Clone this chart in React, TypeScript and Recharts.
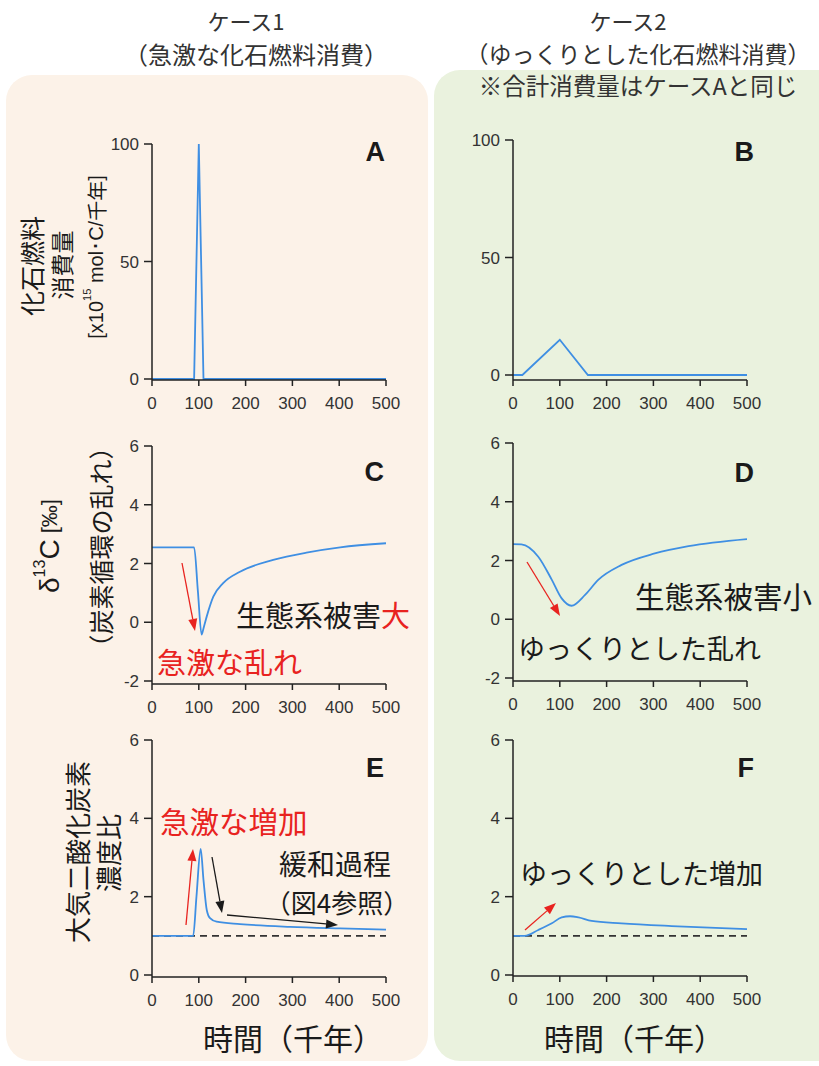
import React from 'react';
import { LineChart, Line, XAxis, YAxis, ReferenceLine } from 'recharts';

// 時間（千年）
const xTicks = [0, 100, 200, 300, 400, 500];
const fuelTicks = [0, 50, 100];
const d13cTicks = [-2, 0, 2, 4, 6];
const co2Ticks = [0, 2, 4, 6];

// A: 急激な化石燃料消費
const timeA = [0, 90, 100, 110, 500];
const fuelA = [0, 0, 100, 0, 0];

// B: ゆっくりとした化石燃料消費
const timeB = [0, 20, 100, 160, 500];
const fuelB = [0, 0, 15, 0, 0];

// C: δ13C ケース1
const timeC = [0, 90, 98, 106, 110, 117, 131, 152, 188, 259, 330, 402, 500];
const d13cC = [2.55, 2.55, 1.07, -0.42, -0.21, 0.2, 0.87, 1.33, 1.72, 2.12, 2.37, 2.55, 2.69];

// D: δ13C ケース2
const timeD = [0, 18, 54, 83, 104, 125, 154, 182, 232, 303, 375, 500];
const d13cD = [2.56, 2.55, 2.13, 1.34, 0.71, 0.46, 0.83, 1.34, 1.85, 2.24, 2.49, 2.73];

// E: CO2 濃度比 ケース1
const timeE = [0, 88, 95, 104, 110, 117, 124, 138, 188, 295, 402, 500];
const co2E = [1.0, 1.0, 2.0, 3.22, 2.43, 1.66, 1.45, 1.36, 1.3, 1.23, 1.19, 1.16];

// F: CO2 濃度比 ケース2
const timeF = [0, 25, 54, 83, 104, 122, 140, 168, 232, 339, 500];
const co2F = [1.0, 1.0, 1.15, 1.32, 1.47, 1.5, 1.47, 1.38, 1.32, 1.25, 1.17];

const JP = '"Noto Sans CJK JP", "Noto Sans", sans-serif';
const LAT = '"Liberation Sans", Arial, sans-serif';
const BLUE = '#3f8fe3';
const RED = '#e8231f';
const INK = '#1a1a1a';

type PanelProps = {
  x: number;
  y: number;
  times: number[];
  values: number[];
  domain: [number, number];
  ticks: number[];
  pad: number;
  curve: 'linear' | 'monotone';
  baseline?: boolean;
};

function Panel({ x, y, times, values, domain, ticks, pad, curve, baseline }: PanelProps) {
  const data = times.map((t, i) => ({ t, v: values[i] }));
  const YW = 60, MT = 10, MR = 30, XH = 40, PW = 234, PH = 235;
  const axisStyle = { stroke: '#222', strokeWidth: 1.5 };
  const tickStyle = { fill: '#333', fontSize: 17, fontFamily: LAT };
  return (
    <div style={{ position: 'absolute', left: x - YW, top: y - MT }}>
      <LineChart
        width={YW + PW + MR}
        height={MT + PH + pad + XH}
        data={data}
        margin={{ top: MT, right: MR, bottom: 0, left: 0 }}
      >
        <XAxis
          dataKey="t"
          type="number"
          domain={[0, 500]}
          ticks={xTicks}
          interval={0}
          height={XH}
          tickSize={6}
          tickMargin={11}
          axisLine={axisStyle}
          tickLine={axisStyle}
          tick={tickStyle}
        />
        <YAxis
          type="number"
          domain={domain}
          ticks={ticks}
          interval={0}
          width={YW}
          tickSize={8}
          tickMargin={5}
          padding={{ top: 0, bottom: pad }}
          axisLine={axisStyle}
          tickLine={axisStyle}
          tick={tickStyle}
        />
        {baseline && (
          <ReferenceLine y={1} stroke="#333" strokeWidth={1.6} strokeDasharray="7 5" />
        )}
        <Line
          dataKey="v"
          type={curve}
          stroke={BLUE}
          strokeWidth={1.8}
          dot={false}
          isAnimationActive={false}
        />
      </LineChart>
    </div>
  );
}

function Arrow({ x1, y1, x2, y2, color }: { x1: number; y1: number; x2: number; y2: number; color: string }) {
  const a = Math.atan2(y2 - y1, x2 - x1);
  const L = 12, W = 4.5;
  const bx = x2 - L * Math.cos(a);
  const by = y2 - L * Math.sin(a);
  const pts = [
    [x2, y2],
    [bx + W * Math.sin(a), by - W * Math.cos(a)],
    [bx - W * Math.sin(a), by + W * Math.cos(a)],
  ].map(p => p.join(',')).join(' ');
  return (
    <g>
      <line x1={x1} y1={y1} x2={bx} y2={by} stroke={color} strokeWidth={1.3} />
      <polygon points={pts} fill={color} />
    </g>
  );
}

function VText({ x, y, size, children }: { x: number; y: number; size: number; children: React.ReactNode }) {
  return (
    <text
      transform={`translate(${x},${y}) rotate(-90)`}
      textAnchor="middle"
      dominantBaseline="central"
      fontSize={size}
      fontFamily={JP}
      fill={INK}
    >
      {children}
    </text>
  );
}

export default function App() {
  const letter = { fontFamily: LAT, fontWeight: 700, fontSize: 27, fill: INK, textAnchor: 'end' as const };
  const note = { fontFamily: JP, fill: INK, dominantBaseline: 'central' as const };
  const head = { fontFamily: JP, fill: '#333', textAnchor: 'middle' as const, dominantBaseline: 'central' as const };
  return (
    <div style={{ position: 'absolute', left: 0, top: 0, width: 819, height: 1066, overflow: 'hidden', background: '#fff' }}>
      <div style={{ position: 'absolute', left: 6, top: 75, width: 422, height: 986, background: '#fcf2e8', borderRadius: 26 }} />
      <div style={{ position: 'absolute', left: 434, top: 70, width: 420, height: 991, background: '#eaf2de', borderRadius: 26 }} />

      <Panel x={152} y={144} times={timeA} values={fuelA} domain={[0, 100]} ticks={fuelTicks} pad={1} curve="linear" />
      <Panel x={513} y={140} times={timeB} values={fuelB} domain={[0, 100]} ticks={fuelTicks} pad={5} curve="linear" />
      <Panel x={152} y={446} times={timeC} values={d13cC} domain={[-2, 6]} ticks={d13cTicks} pad={3} curve="monotone" />
      <Panel x={513} y={443} times={timeD} values={d13cD} domain={[-2, 6]} ticks={d13cTicks} pad={3} curve="monotone" />
      <Panel x={152} y={740} times={timeE} values={co2E} domain={[0, 6]} ticks={co2Ticks} pad={2} curve="monotone" baseline />
      <Panel x={513} y={740} times={timeF} values={co2F} domain={[0, 6]} ticks={co2Ticks} pad={1} curve="monotone" baseline />

      <svg width={819} height={1066} style={{ position: 'absolute', left: 0, top: 0, pointerEvents: 'none' }}>
        {/* 見出し */}
        <text x={246} y={20} {...head} fontSize={22}>ケース1</text>
        <text x={256} y={53} {...head} fontSize={24}>（急激な化石燃料消費）</text>
        <text x={628} y={20} {...head} fontSize={22}>ケース2</text>
        <text x={638} y={53} {...head} fontSize={23}>（ゆっくりとした化石燃料消費）</text>
        <text x={638} y={85} {...head} fontSize={23.5}>※合計消費量はケースAと同じ</text>

        {/* パネル記号 */}
        <text x={385} y={161} {...letter}>A</text>
        <text x={754} y={161} {...letter}>B</text>
        <text x={384} y={481} {...letter}>C</text>
        <text x={754} y={482} {...letter}>D</text>
        <text x={384} y={777} {...letter}>E</text>
        <text x={754} y={777} {...letter}>F</text>

        {/* 縦軸ラベル */}
        <VText x={31} y={266} size={25}>化石燃料</VText>
        <VText x={61} y={265} size={23}>消費量</VText>
        <text transform="translate(96,257) rotate(-90)" textAnchor="middle" dominantBaseline="central" fontSize={20} fontFamily={LAT} fill={INK}>
          [x10<tspan fontSize={11} dy={-9}>15</tspan><tspan dy={9}> mol･C/</tspan><tspan fontFamily={JP}>千年</tspan>]
        </text>

        <text transform="translate(49,546) rotate(-90)" textAnchor="middle" dominantBaseline="central" fontFamily={LAT} fill={INK}>
          <tspan fontSize={28}>δ</tspan><tspan fontSize={16} dy={-10}>13</tspan><tspan fontSize={28} dy={10}>C</tspan><tspan fontSize={22}> [‰]</tspan>
        </text>
        <VText x={100} y={547} size={25}>（炭素循環の乱れ）</VText>

        <VText x={76} y={852} size={26}>大気二酸化炭素</VText>
        <VText x={107} y={853} size={26}>濃度比</VText>

        {/* 横軸ラベル */}
        <text x={293} y={1037} textAnchor="middle" {...note} fontSize={30}>時間（千年）</text>
        <text x={634} y={1037} textAnchor="middle" {...note} fontSize={30}>時間（千年）</text>

        {/* C */}
        <text x={236} y={614} {...note} fontSize={29}>生態系被害<tspan fill={RED}>大</tspan></text>
        <text x={157} y={661} {...note} fontSize={29} fill={RED}>急激な乱れ</text>
        <Arrow x1={182} y1={563} x2={195} y2={631} color={RED} />

        {/* D */}
        <text x={635} y={595} {...note} fontSize={29.5}>生態系被害小</text>
        <text x={518} y={647} {...note} fontSize={27}>ゆっくりとした乱れ</text>
        <Arrow x1={527} y1={562} x2={560} y2={616} color={RED} />

        {/* E */}
        <text x={160} y={820} {...note} fontSize={29.5} fill={RED}>急激な増加</text>
        <Arrow x1={186} y1={925} x2={193} y2={849} color={RED} />
        <text x={279} y={863} {...note} fontSize={28}>緩和過程</text>
        <text x={337} y={901} textAnchor="middle" {...note} fontSize={26}>（図4参照）</text>
        <Arrow x1={212} y1={857} x2={222} y2={913} color={INK} />
        <Arrow x1={227} y1={915} x2={338} y2={925} color={INK} />

        {/* F */}
        <text x={520} y={872} {...note} fontSize={27}>ゆっくりとした増加</text>
        <Arrow x1={525} y1={930} x2={556} y2={903} color={RED} />
      </svg>
    </div>
  );
}
